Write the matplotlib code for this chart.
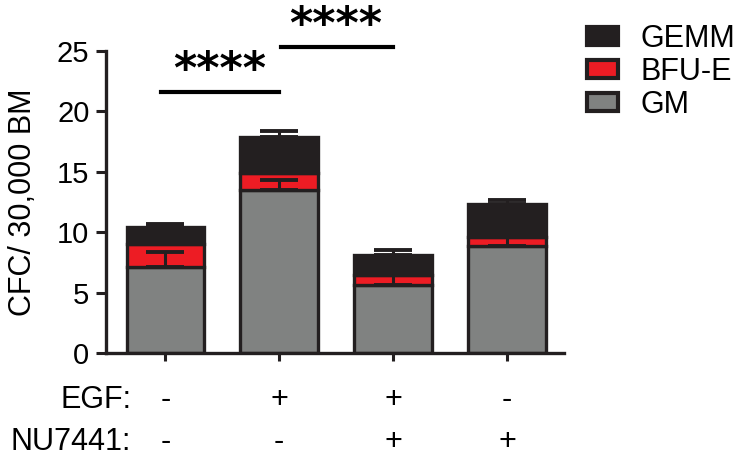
import matplotlib.pyplot as plt
import numpy as np
from matplotlib.patches import Patch

plt.rcParams['font.family'] = ['Liberation Sans', 'DejaVu Sans']

# colony counts per 30,000 BM cells, stacked by colony type
groups = ['ctrl', 'EGF', 'EGF+NU7441', 'NU7441']
egf = ['-', '+', '+', '-']
nu7441 = ['-', '-', '+', '+']
gm = np.array([7.15, 13.5, 5.65, 8.9])
gm_err = np.array([1.25, 0.8, 0.8, 0.7])
bfue = np.array([1.85, 1.37, 0.81, 0.73])
bfue_err = np.array([0.5, 0.4, 0.3, 0.3])
gemm = np.array([1.45, 3.0, 1.64, 2.7])
gemm_err = np.array([0.23, 0.5, 0.4, 0.34])

c_gm = '#808281'
c_bfue = '#ed1c24'
c_gemm = '#231f20'
edge = '#231f20'

fig = plt.figure(figsize=(7.42, 4.58), dpi=100)
ax = fig.add_axes([0.143, 0.229, 0.617, 0.660])

x = np.arange(len(groups))
w = 0.68
ax.bar(x, gm, w, color=c_gm, edgecolor=edge, linewidth=2.4, zorder=2)
ax.bar(x, bfue, w, bottom=gm, color=c_bfue, edgecolor=edge, linewidth=2.4, zorder=2)
ax.bar(x, gemm, w, bottom=gm + bfue, color=c_gemm, edgecolor=edge, linewidth=2.4, zorder=2)

# upward-only error bars for each segment
tops = [gm, gm + bfue, gm + bfue + gemm]
errs = [gm_err, bfue_err, gemm_err]
for t, e in zip(tops, errs):
    ax.errorbar(x, t, yerr=[np.zeros_like(e), e], fmt='none', ecolor=edge,
                elinewidth=2.2, capsize=13.5, capthick=2.8, zorder=3)

ax.set_ylim(0, 25)
ax.set_xlim(-0.52, 3.5)
ax.set_yticks([0, 5, 10, 15, 20, 25])
ax.set_xticks(x)
ax.set_xticklabels([])
ax.tick_params(axis='y', labelsize=21, width=2.2, length=7, pad=5, color=edge)
ax.tick_params(axis='x', width=2.2, length=6, color=edge)
for s in ['top', 'right']:
    ax.spines[s].set_visible(False)
for s in ['left', 'bottom']:
    ax.spines[s].set_linewidth(2.4)
    ax.spines[s].set_color(edge)
ax.set_ylabel('CFC/ 30,000 BM', fontsize=22)
ax.yaxis.set_label_coords(-0.148, 0.5)

# treatment table under the axis
tr = ax.get_xaxis_transform()
ax.text(-0.3, -0.156, 'EGF:', transform=tr, ha='right', va='center', fontsize=22)
ax.text(-0.3, -0.295, 'NU7441:', transform=tr, ha='right', va='center', fontsize=22)
for xi, a, b in zip(x, egf, nu7441):
    ax.text(xi, -0.156, a, transform=tr, ha='center', va='center', fontsize=22)
    ax.text(xi, -0.295, b, transform=tr, ha='center', va='center', fontsize=22)

# significance brackets
ax.plot([-0.04, 1.0], [21.6, 21.6], color='black', lw=3, clip_on=False)
ax.text(0.48, 23.4, '****', ha='center', va='center', fontsize=32,
        fontweight='bold', family='DejaVu Sans')
ax.plot([1.02, 2.0], [25.35, 25.35], color='black', lw=3, clip_on=False)
ax.text(1.5, 27.1, '****', ha='center', va='center', fontsize=32,
        fontweight='bold', family='DejaVu Sans', clip_on=False)

handles = [Patch(facecolor=c_gemm, edgecolor=edge, linewidth=3, label='GEMM'),
           Patch(facecolor=c_bfue, edgecolor=edge, linewidth=3, label='BFU-E'),
           Patch(facecolor=c_gm, edgecolor=edge, linewidth=3, label='GM')]
fig.legend(handles=handles, loc='upper left', bbox_to_anchor=(0.775, 0.975),
           frameon=False, fontsize=22, handlelength=1.0, handleheight=0.5,
           handletextpad=0.75, labelspacing=0.1, borderaxespad=0)

fig.savefig('out.png', dpi=100)
